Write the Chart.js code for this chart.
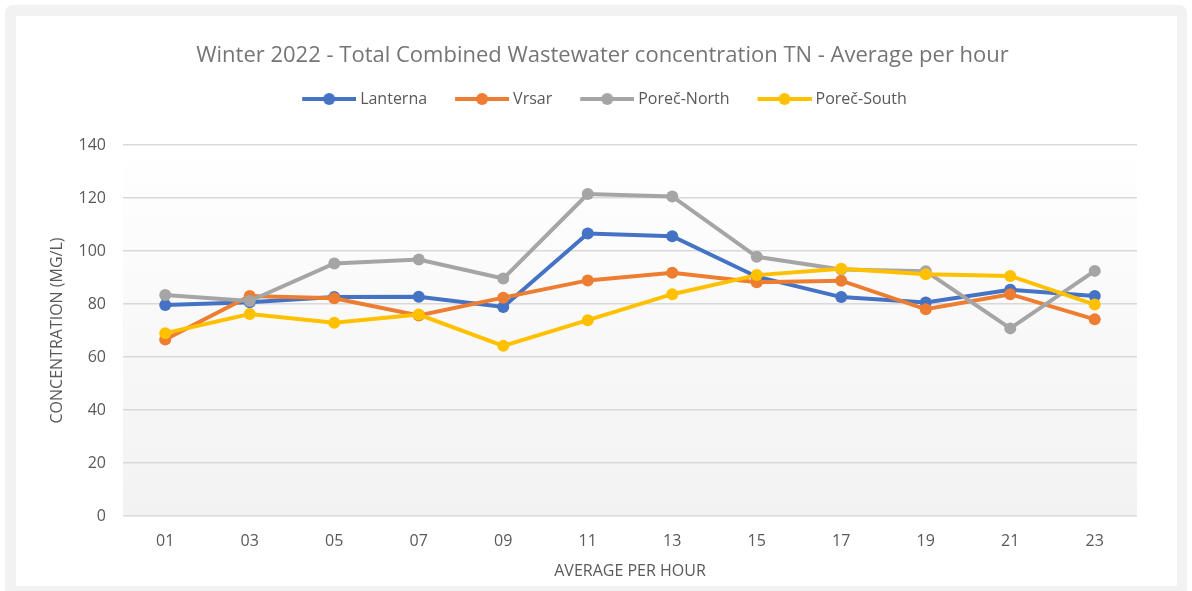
<!DOCTYPE html>
<html>
<head>
<meta charset="utf-8">
<script src="https://cdn.jsdelivr.net/npm/chart.js@4.4.0/dist/chart.umd.min.js"></script>
<style>
  html, body { margin: 0; background: #ffffff; overflow: hidden; }
  #frame { position: absolute; left: 5px; top: 5px; width: 1182px; height: 600px; background: #f2f2f2; border-radius: 8px; }
  #card { position: absolute; left: 16px; top: 16px; width: 1161px; height: 570px; background: #ffffff; }
</style>
</head>
<body>
<div id="frame"></div>
<div id="card"><canvas id="chart" width="1161" height="570"></canvas></div>
<script>
const hours = ['01', '03', '05', '07', '09', '11', '13', '15', '17', '19', '21', '23'];
const lanterna = [79.6, 80.7, 82.6, 82.7, 78.9, 106.6, 105.6, 90.3, 82.6, 80.6, 85.4, 83.0];
const vrsar = [66.6, 83.0, 82.2, 75.7, 82.4, 88.9, 91.8, 88.2, 88.8, 78.0, 83.7, 74.2];
const porecNorth = [83.4, 81.1, 95.3, 96.8, 89.6, 121.5, 120.6, 97.8, 93.0, 92.4, 70.8, 92.5];
const porecSouth = [69.0, 76.2, 72.9, 76.0, 64.2, 73.9, 83.7, 90.9, 93.3, 91.2, 90.6, 79.8];

const FONT = "'Open Sans', sans-serif";
const TEXT = '#595959';

// legend marker: line with a dot, shifted right so the text sits close to it
function legendMark(color) {
    const c = document.createElement('canvas');
    c.width = 62; c.height = 14;
    const g = c.getContext('2d');
    g.strokeStyle = color; g.lineWidth = 4;
    g.beginPath(); g.moveTo(8, 7); g.lineTo(62, 7); g.stroke();
    g.fillStyle = color;
    g.beginPath(); g.arc(35, 7, 6, 0, Math.PI * 2); g.fill();
    return c;
}

function series(label, data, color, order) {
    return {
        label: label, data: data, order: order,
        borderColor: color, backgroundColor: color,
        borderWidth: 4, pointRadius: 6, pointHoverRadius: 6,
        pointBackgroundColor: color, pointBorderWidth: 0, tension: 0
    };
}

const plotBg = {
    id: 'plotBg',
    beforeDraw(chart) {
        const { ctx, chartArea: a } = chart;
        const grad = ctx.createLinearGradient(0, a.top, 0, a.bottom);
        grad.addColorStop(0, '#ffffff');
        grad.addColorStop(1, '#f2f2f2');
        ctx.save();
        ctx.fillStyle = grad;
        ctx.fillRect(a.left, a.top, a.right - a.left, a.bottom - a.top);
        ctx.restore();
    }
};

// keep the gap between legend and plot like the original
const legendHeight = {
    id: 'legendHeight',
    afterInit(chart) {
        const legend = chart.legend;
        const fit = legend.fit;
        legend.fit = function () { fit.call(this); this.height = 78; };
    }
};

new Chart(document.getElementById('chart'), {
    type: 'line',
    data: {
        labels: hours,
        datasets: [
            series('Lanterna', lanterna, '#4472c4', 4),
            series('Vrsar', vrsar, '#ed7d31', 3),
            series('Poreč-North', porecNorth, '#a5a5a5', 2),
            series('Poreč-South', porecSouth, '#ffc000', 1)
        ]
    },
    options: {
        responsive: false,
        animation: false,
        layout: { padding: { left: 52, right: 40, top: 0, bottom: 0 } },
        plugins: {
            title: {
                display: true,
                text: 'Winter 2022 - Total Combined Wastewater concentration TN - Average per hour',
                color: '#757575',
                font: { family: FONT, size: 22, weight: 'normal', lineHeight: 1 },
                padding: { top: 29, bottom: 0 }
            },
            legend: {
                labels: {
                    usePointStyle: true,
                    pointStyleWidth: 54,
                    padding: 24,
                    color: TEXT,
                    font: { family: FONT, size: 16 },
                    generateLabels(chart) {
                        return chart.data.datasets.map((ds, i) => ({
                            text: ds.label,
                            pointStyle: legendMark(ds.borderColor),
                            fillStyle: ds.borderColor,
                            strokeStyle: ds.borderColor,
                            lineWidth: 0,
                            fontColor: TEXT,
                            hidden: !chart.isDatasetVisible(i),
                            datasetIndex: i
                        }));
                    }
                }
            },
            tooltip: { enabled: false }
        },
        scales: {
            x: {
                offset: true,
                grid: { display: false },
                border: { display: false },
                ticks: { color: TEXT, font: { family: FONT, size: 16 }, padding: 8 },
                title: {
                    display: true, text: 'AVERAGE PER HOUR', color: TEXT,
                    font: { family: FONT, size: 16 }, padding: { top: 0, bottom: 5 }
                },
                afterFit(s) { s.height = 70; }
            },
            y: {
                min: 0, max: 140,
                grid: { color: '#d9d9d9', lineWidth: 1.5, drawTicks: false },
                border: { display: false },
                ticks: { stepSize: 20, padding: 17, color: TEXT, font: { family: FONT, size: 16 } },
                title: {
                    display: true, text: 'CONCENTRATION (MG/L)', color: TEXT,
                    font: { family: FONT, size: 16 }, padding: { top: -20.6, bottom: 0 }
                },
                afterFit(s) { s.width = 55; }
            }
        }
    },
    plugins: [plotBg, legendHeight]
});
</script>
</body>
</html>
